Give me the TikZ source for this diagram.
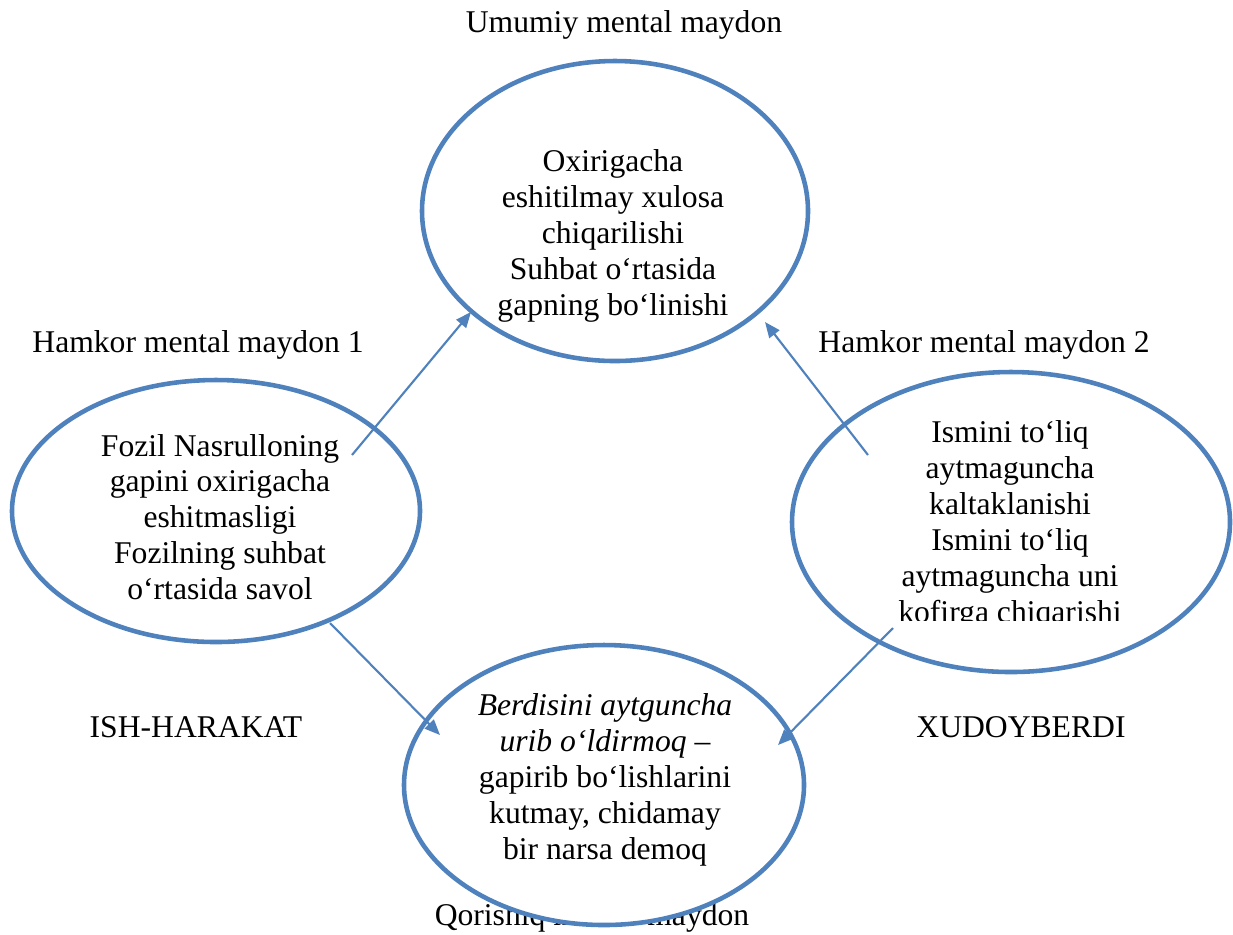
\documentclass[tikz,border=0pt]{standalone}
\usepackage{fontspec}
\setmainfont{Liberation Serif}
\usetikzlibrary{shapes.geometric, arrows.meta, positioning}
\definecolor{maydonblue}{RGB}{79,129,189}

\begin{document}
\begin{tikzpicture}[
    maydon/.style={draw=maydonblue, line width=1.3pt, fill=white, ellipse, inner sep=0pt},
    matn/.style={align=center, font=\fontsize{9}{10.2}\selectfont, inner sep=0pt},
    sarlavha/.style={font=\fontsize{9}{10}\selectfont, inner sep=0pt},
    bogla/.style={-{Triangle[length=4.4pt, width=3.6pt]}, draw=maydonblue, line width=0.6pt},
]
    \useasboundingbox (0,0) rectangle (12.33,-9.34);

    % Sarlavhalar
    \node[sarlavha] (t-umumiy) at (6.24, -0.25) {Umumiy mental maydon};
    \node[sarlavha] (t-hamkor1) at (1.98, -3.45) {Hamkor mental maydon 1};
    \node[sarlavha] (t-hamkor2) at (9.84, -3.45) {Hamkor mental maydon 2};
    \node[sarlavha] (t-ish) at (1.96, -7.27) {ISH-HARAKAT};
    \node[sarlavha] (t-xudo) at (10.21, -7.27) {XUDOYBERDI};
    \node[sarlavha] (t-qorishiq) at (5.92, -9.18) {Qorishiq mental maydon};

    % Maydonlar
    \node[maydon, minimum width=3.86cm, minimum height=3.0cm] (umumiy) at (6.15, -2.11) {};
    \node[maydon, minimum width=4.08cm, minimum height=2.62cm] (hamkor1) at (2.16, -5.11) {};
    \node[maydon, minimum width=4.38cm, minimum height=3.0cm] (hamkor2) at (10.11, -5.22) {};
    \node[maydon, minimum width=4.0cm, minimum height=2.8cm] (qorishiq) at (6.04, -7.85) {};

    \node[matn] (m-umumiy) at (6.13, -2.36) {Oxirigacha\\eshitilmay xulosa\\chiqarilishi\\Suhbat o‘rtasida\\gapning bo‘linishi};
    \node[matn] (m-hamkor1) at (2.20, -5.17) {Fozil Nasrulloning\\gapini oxirigacha\\eshitmasligi\\Fozilning suhbat\\o‘rtasida savol};
    \begin{scope}
        \clip (7.8, -3.8) rectangle (12.3, -6.20);
        \node[matn] (m-hamkor2) at (10.10, -5.25) {Ismini to‘liq\\aytmaguncha\\kaltaklanishi\\Ismini to‘liq\\aytmaguncha uni\\kofirga chiqarishi};
    \end{scope}
    \node[matn] (m-qorishiq) at (6.05, -7.80) {\itshape Berdisini aytguncha\\\itshape urib o‘ldirmoq –\\gapirib bo‘lishlarini\\kutmay, chidamay\\bir narsa demoq};

    % Bog'lanishlar
    \coordinate (a1s) at (3.52, -4.55);
    \coordinate (a1e) at (4.71, -3.12);
    \coordinate (a2s) at (8.68, -4.55);
    \coordinate (a2e) at (7.65, -3.22);
    \coordinate (a3s) at (3.30, -6.23);
    \coordinate (a3e) at (4.40, -7.35);
    \coordinate (a4s) at (8.93, -6.28);
    \coordinate (a4e) at (7.78, -7.45);

    \draw[bogla] (a1s) -- (a1e);
    \draw[bogla] (a2s) -- (a2e);
    \draw[bogla] (a3s) -- (a3e);
    \draw[bogla] (a4s) -- (a4e);
\end{tikzpicture}
\end{document}
